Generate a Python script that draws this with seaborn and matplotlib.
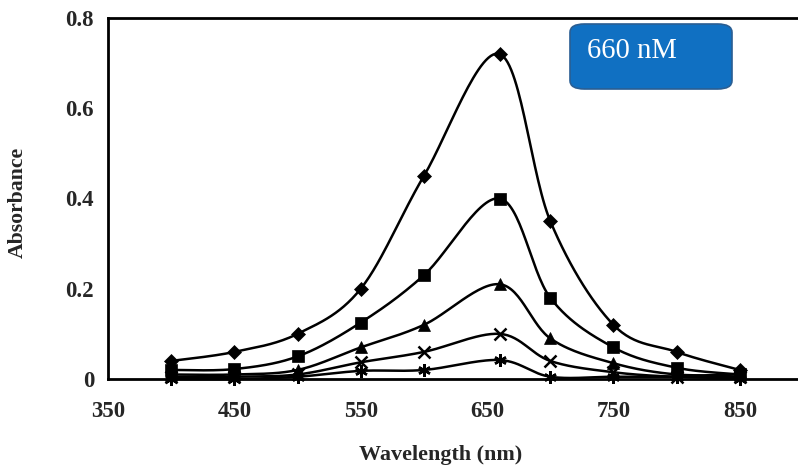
import numpy as np
import pandas as pd
import matplotlib
matplotlib.use("Agg")
import matplotlib.pyplot as plt
import seaborn as sns
from matplotlib.patches import FancyBboxPatch

wavelength = [400, 450, 500, 550, 600, 660, 700, 750, 800, 850]
s_diamond = [0.04, 0.06, 0.10, 0.20, 0.45, 0.72, 0.35, 0.12, 0.06, 0.02]
s_square = [0.02, 0.022, 0.05, 0.125, 0.23, 0.40, 0.18, 0.07, 0.025, 0.01]
s_triangle = [0.01, 0.01, 0.02, 0.07, 0.12, 0.21, 0.09, 0.035, 0.01, 0.01]
s_cross = [0.005, 0.005, 0.01, 0.037, 0.06, 0.10, 0.04, 0.015, 0.005, 0.005]
s_star = [0.0, 0.0, 0.005, 0.018, 0.02, 0.042, 0.005, 0.005, 0.005, 0.0]
series = [("diamond", s_diamond, "D", 7), ("square", s_square, "s", 8),
          ("triangle", s_triangle, "^", 8), ("cross", s_cross, "x", 8),
          ("star", s_star, (6, 2, 0), 9)]
xticks = [350, 450, 550, 650, 750, 850]
yticks = [0, 0.2, 0.4, 0.6, 0.8]
ytick_labels = ["0", "0.2", "0.4", "0.6", "0.8"]
box_text = "660 nM"


def smooth(x, y, n=30):
    # Excel-style smoothed line (Bezier with Catmull-Rom control points)
    x = np.asarray(x, float); y = np.asarray(y, float)
    P = np.column_stack([x, y])
    out = []
    for i in range(len(P) - 1):
        p0 = P[i - 1] if i > 0 else P[i]
        p1 = P[i]; p2 = P[i + 1]
        p3 = P[i + 2] if i + 2 < len(P) else P[i + 1]
        c1 = p1 + (p2 - p0) / 6.0
        c2 = p2 - (p3 - p1) / 6.0
        t = np.linspace(0, 1, n, endpoint=(i == len(P) - 2))[:, None]
        b = (1 - t) ** 3 * p1 + 3 * (1 - t) ** 2 * t * c1 + 3 * (1 - t) * t ** 2 * c2 + t ** 3 * p2
        out.append(b)
    B = np.vstack(out)
    return B[:, 0], B[:, 1]


sns.set_theme(style="white")
plt.rcParams['font.family'] = ['Liberation Serif', 'DejaVu Serif']

fig = plt.figure(figsize=(7.98, 4.66), dpi=100)
ax = fig.add_axes([108 / 798, 1 - 379 / 466, 695 / 798, 361 / 466])

for name, vals, mk, ms in series:
    sx, sy = smooth(wavelength, vals)
    df = pd.DataFrame({"x": sx, "y": sy})
    sns.lineplot(data=df, x="x", y="y", ax=ax, color="black", linewidth=1.8,
                 sort=False, estimator=None, clip_on=False)
    ax.plot(wavelength, vals, linestyle="none", marker=mk, markersize=ms,
            color="black", markeredgewidth=1.8 if mk in ("x", (6, 2, 0)) else 0.5,
            clip_on=False, zorder=3)

ax.set_xlim(350, 900)
ax.set_ylim(0, 0.8)
ax.set_xticks(xticks)
ax.set_xticklabels([str(v) for v in xticks])
ax.set_yticks(yticks)
ax.set_yticklabels(ytick_labels)
ax.set_xlabel("")
ax.set_ylabel("")
for side in ["left", "bottom", "top"]:
    ax.spines[side].set_visible(True)
    ax.spines[side].set_color("black")
    ax.spines[side].set_linewidth(2.0)
ax.spines["right"].set_visible(False)
ax.tick_params(axis="both", which="major", direction="out", length=5, width=2,
               color="black", labelsize=16.5)
ax.tick_params(axis="x", pad=11)
ax.tick_params(axis="y", pad=5)
for lab in ax.get_xticklabels() + ax.get_yticklabels():
    lab.set_fontweight("bold")

fig.text(441 / 798, 1 - 455 / 466, "Wavelength (nm)", ha="center", va="center",
         fontsize=15.9, fontweight="bold")
fig.text(18 / 798, 1 - 202 / 466, "Absorbance", ha="center", va="center",
         rotation=90, fontsize=15.7, fontweight="bold")

box = FancyBboxPatch((570 / 798, 1 - 89 / 466), 162 / 798, 65 / 466,
                     boxstyle="round,pad=0,rounding_size=0.018",
                     transform=fig.transFigure, facecolor="#1070C2",
                     edgecolor="#2A5E93", linewidth=1.2)
fig.add_artist(box)
fig.text(587 / 798, 1 - 51 / 466, box_text, ha="left", va="center",
         fontsize=20.6, color="white")

fig.savefig("out.png", dpi=100)
